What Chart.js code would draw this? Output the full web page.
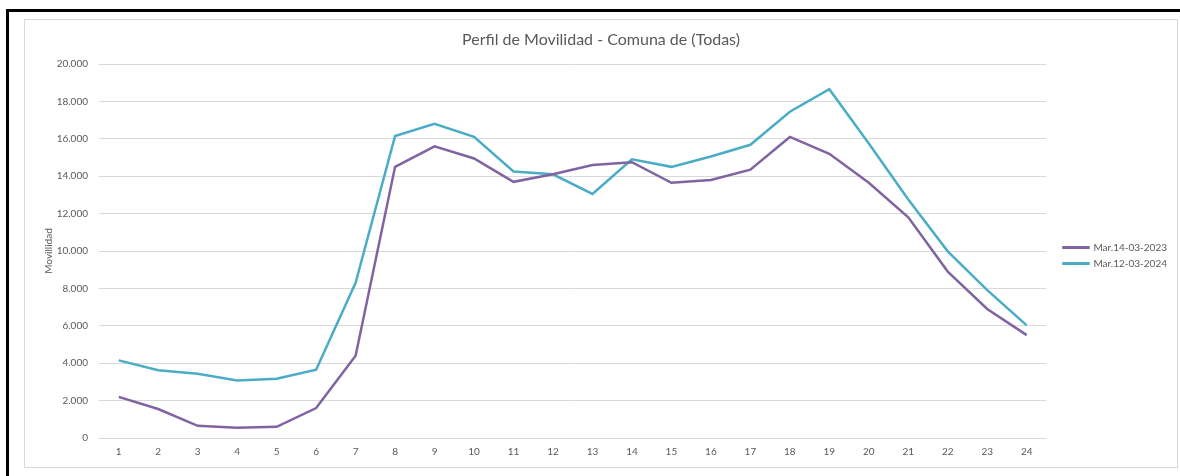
<!DOCTYPE html>
<html>
<head>
<meta charset="utf-8">
<script src="https://cdn.jsdelivr.net/npm/chart.js@4.4.1/dist/chart.umd.min.js"></script>
<style>
  html, body { margin: 0; padding: 0; background: #ffffff; overflow: hidden; width: 1180px; height: 476px; }
  #frame { position: absolute; left: 6px; top: 9px; width: 1300px; height: 600px; border-left: 3px solid #000; border-top: 3px solid #000; box-sizing: border-box; }
  #box { position: absolute; left: 24px; top: 19px; width: 1154px; height: 449px; border: 1px solid #d9d9d9; box-sizing: border-box; background: #fff; }
  #c { display: block; }
</style>
</head>
<body>
<div id="frame"></div>
<div id="box"><canvas id="c" width="1152" height="447"></canvas></div>
<script>
const hours = ["1","2","3","4","5","6","7","8","9","10","11","12","13","14","15","16","17","18","19","20","21","22","23","24"];
const series2023 = [2200,1550,650,550,600,1600,4400,14500,15600,14950,13700,14100,14600,14750,13650,13800,14350,16100,15200,13650,11800,8900,6900,5500];
const series2024 = [4150,3620,3430,3080,3170,3650,8300,16150,16800,16100,14250,14100,13050,14900,14500,15050,15680,17450,18650,15750,12750,9980,7910,6020];
const seriesNames = ["Mar.14-03-2023", "Mar.12-03-2024"];
const yTicks = [0,2000,4000,6000,8000,10000,12000,14000,16000,18000,20000];

const FONT = "Lato, 'Open Sans', sans-serif";
const TXT = "#595959";

function fmt(v) {
  return String(v).replace(/\B(?=(\d{3})+(?!\d))/g, ".");
}

new Chart(document.getElementById('c'), {
  type: 'line',
  data: {
    labels: hours,
    datasets: [
      { label: seriesNames[0], data: series2023, borderColor: '#8064a2', backgroundColor: '#8064a2', borderWidth: 2.5, pointRadius: 0, tension: 0, fill: false },
      { label: seriesNames[1], data: series2024, borderColor: '#4bacc6', backgroundColor: '#4bacc6', borderWidth: 2.5, pointRadius: 0, tension: 0, fill: false }
    ]
  },
  options: {
    responsive: false,
    animation: false,
    devicePixelRatio: 1,
    layout: { padding: { left: 0, right: 0, top: 0, bottom: 0 } },
    plugins: {
      title: {
        display: true,
        text: 'Perfil de Movilidad - Comuna de (Todas)',
        color: TXT,
        font: { family: FONT, size: 16, weight: 'normal' },
        padding: { top: 10.4, bottom: 14.4 }
      },
      legend: {
        position: 'right',
        align: 'center',
        title: { display: true, text: '', font: { family: FONT, size: 10 }, padding: 6 },
        labels: {
          color: TXT,
          font: { family: FONT, size: 10 },
          boxWidth: 25,
          boxHeight: 0.5,
          padding: 6
        }
      },
      tooltip: { enabled: false }
    },
    scales: {
      x: {
        offset: true,
        grid: { display: false, drawTicks: false },
        border: { display: false },
        ticks: { color: TXT, font: { family: FONT, size: 10 }, padding: 8, maxRotation: 0, autoSkip: false },
        afterFit: (s) => { s.height = 29; }
      },
      y: {
        min: 0,
        max: 20000,
        afterBuildTicks: (s) => { s.ticks = yTicks.map(v => ({ value: v })); },
        grid: { color: '#d9d9d9', lineWidth: 1, drawTicks: false },
        border: { display: false },
        ticks: { color: TXT, font: { family: FONT, size: 10 }, padding: 11, callback: (v) => fmt(v) },
        title: { display: true, text: 'Movillidad', color: TXT, font: { family: FONT, size: 10 }, padding: { top: 18, bottom: 0 } },
        afterFit: (s) => { s.width = 74; }
      },
      spacer: {
        position: 'right',
        display: true,
        grid: { display: false },
        border: { display: false },
        ticks: { display: false },
        afterFit: (s) => { s.width = 11; }
      }
    }
  }
});
</script>
</body>
</html>
